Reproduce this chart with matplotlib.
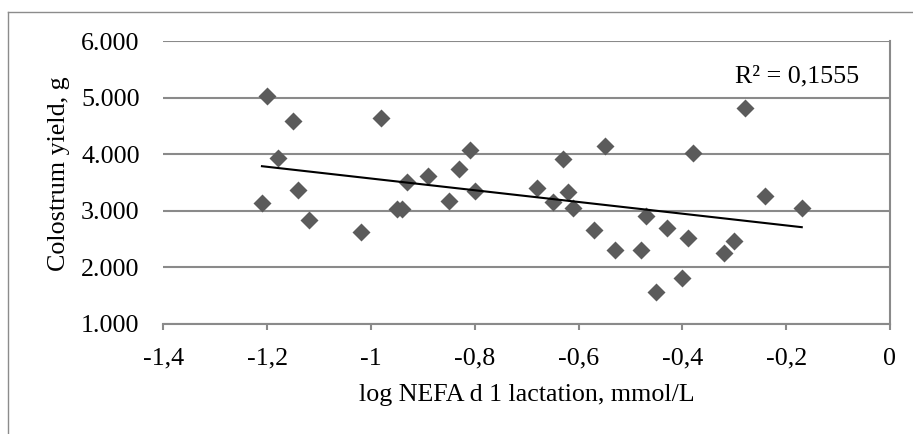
import matplotlib
matplotlib.use("Agg")
import matplotlib.pyplot as plt
import numpy as np
from matplotlib.ticker import FuncFormatter, MultipleLocator
from matplotlib.lines import Line2D

plt.rcParams["font.family"] = ["Liberation Serif", "DejaVu Serif"]

# log NEFA (mmol/L) and colostrum yield (g)
log_nefa = [-1.21, -1.20, -1.18, -1.15, -1.14, -1.12, -1.02, -0.98, -0.95, -0.94,
            -0.93, -0.89, -0.85, -0.83, -0.81, -0.80, -0.68, -0.65, -0.63, -0.62,
            -0.61, -0.57, -0.55, -0.53, -0.48, -0.47, -0.45, -0.43, -0.40, -0.39,
            -0.38, -0.32, -0.30, -0.28, -0.24, -0.17]
colostrum = [3130, 5020, 3940, 4590, 3360, 2830, 2630, 4640, 3040, 3030,
             3500, 3620, 3180, 3740, 4070, 3350, 3400, 3160, 3910, 3330,
             3050, 2660, 4140, 2310, 2300, 2900, 1570, 2690, 1810, 2520,
             4030, 2250, 2460, 4820, 3260, 3050]
r2_text = "R² = 0,1555"

x = np.array(log_nefa)
y = np.array(colostrum)
slope, intercept = np.polyfit(x, y, 1)
xfit = np.array([x.min(), x.max()])

FS = 18.7

fig = plt.figure(figsize=(9.13, 4.34), dpi=100)
ax = fig.add_axes([0.1789, 0.2535, 0.7959, 0.652])

ax.plot(x, y, linestyle="none", marker="D", ms=9.6, color="#5b5b5b", mec="none", zorder=3)
ax.plot(xfit, slope * xfit + intercept, color="black", lw=1.5, zorder=4)

ax.set_xlim(-1.4, 0)
ax.set_ylim(1000, 6000)
ax.xaxis.set_major_locator(MultipleLocator(0.2))
ax.yaxis.set_major_locator(MultipleLocator(1000))

def fmt_x(v, pos):
    v = round(v, 1)
    if v == 0:
        return "0"
    return f"{v:g}".replace(".", ",")

def fmt_y(v, pos):
    return f"{v:,.0f}".replace(",", ".")

ax.xaxis.set_major_formatter(FuncFormatter(fmt_x))
ax.yaxis.set_major_formatter(FuncFormatter(fmt_y))

ax.grid(axis="y", color="#8a8a8a", lw=1.5)
ax.set_axisbelow(True)
for s in ["left", "top"]:
    ax.spines[s].set_visible(False)
for s in ["right", "bottom"]:
    ax.spines[s].set_color("#8a8a8a")
    ax.spines[s].set_linewidth(1.5)

ax.tick_params(axis="y", length=0, pad=17, labelsize=FS)
ax.tick_params(axis="x", length=4, width=1.5, color="#8a8a8a", pad=13, labelsize=FS)

ax.set_xlabel("log NEFA d 1 lactation, mmol/L", fontsize=FS)
ax.set_ylabel("Colostrum yield, g", fontsize=FS)
ax.xaxis.set_label_coords(0.5, -0.213)
ax.yaxis.set_label_coords(-0.128, 0.53)

ax.text(0.787, 0.852, r2_text, transform=ax.transAxes, fontsize=FS, va="baseline")

# chart area border (only top and left visible in the crop)
fig.add_artist(Line2D([8 / 913, 8 / 913], [0, 1 - 12 / 434], transform=fig.transFigure, color="#8c8c8c", lw=1))
fig.add_artist(Line2D([8 / 913, 1], [1 - 12 / 434, 1 - 12 / 434], transform=fig.transFigure, color="#8c8c8c", lw=1))

fig.savefig("out.png", dpi=100)
